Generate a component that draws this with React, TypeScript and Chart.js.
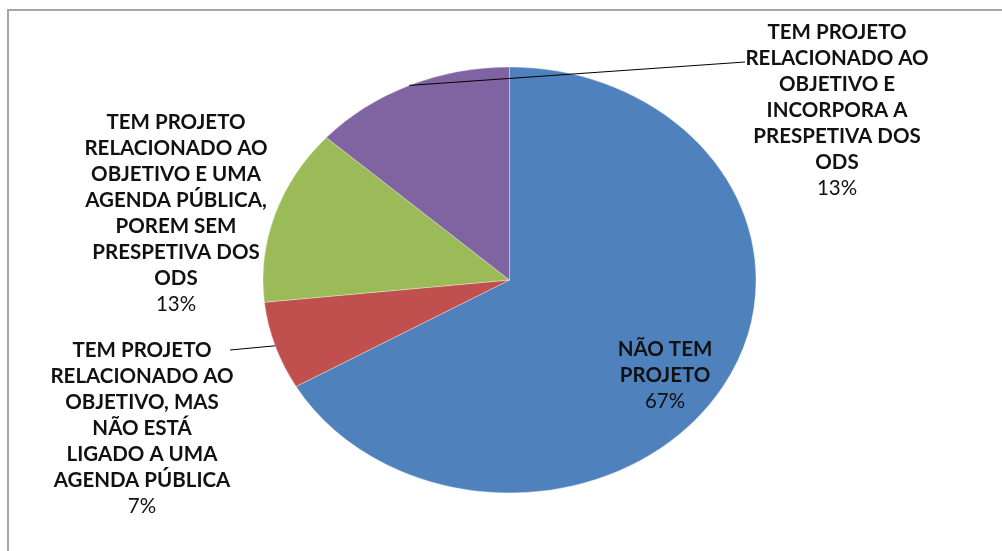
import React, { useEffect, useRef } from "react";
import { Chart, registerables } from "chart.js";
Chart.register(...registerables);

// ---- data ----
const categories = [
  "NÃO TEM PROJETO",
  "TEM PROJETO RELACIONADO AO OBJETIVO, MAS NÃO ESTÁ LIGADO A UMA AGENDA PÚBLICA",
  "TEM PROJETO RELACIONADO AO OBJETIVO E UMA AGENDA PÚBLICA, POREM SEM PRESPETIVA DOS ODS",
  "TEM PROJETO RELACIONADO AO OBJETIVO E INCORPORA A PRESPETIVA DOS ODS",
];
const values = [10, 1, 2, 2];
const labelLines = [
  ["NÃO TEM", "PROJETO"],
  ["TEM PROJETO", "RELACIONADO AO", "OBJETIVO, MAS", "NÃO ESTÁ", "LIGADO A UMA", "AGENDA PÚBLICA"],
  ["TEM PROJETO", "RELACIONADO AO", "OBJETIVO E UMA", "AGENDA PÚBLICA,", "POREM SEM", "PRESPETIVA DOS", "ODS"],
  ["TEM PROJETO", "RELACIONADO AO", "OBJETIVO E", "INCORPORA A", "PRESPETIVA DOS", "ODS"],
];

// ---- styles / layout ----
const colors = ["#4F81BD", "#C0504D", "#9BBB59", "#8064A2"];
const W = 1002;
const H = 551;
const RADIUS = 246.5;
const Y_SCALE = 213 / 246.5;
const LABEL_POS = [
  { x: 665, y: 349 },
  { x: 142, y: 350 },
  { x: 176, y: 122 },
  { x: 837, y: 32 },
];
const LEADER_END: ({ x: number; y: number } | null)[] = [null, { x: 230, y: 350 }, null, { x: 745, y: 62 }];
const LINE_H = 26;
const FONT_FAMILY = "Lato, 'Open Sans', sans-serif";
const FONT_SIZE = 20.5;

const ellipsePlugin = {
  id: "ellipse",
  beforeDraw(chart: any) {
    const ctx = chart.ctx;
    ctx.save();
    ctx.fillStyle = "#ffffff";
    ctx.fillRect(0, 0, W, H);
    ctx.strokeStyle = "#a6a6a6";
    ctx.lineWidth = 2;
    ctx.beginPath();
    ctx.moveTo(W, 10);
    ctx.lineTo(8, 10);
    ctx.lineTo(8, H);
    ctx.stroke();
    ctx.restore();
  },
  beforeDatasetsDraw(chart: any) {
    const arc = chart.getDatasetMeta(0).data[0];
    const ctx = chart.ctx;
    ctx.save();
    ctx.translate(arc.x, arc.y);
    ctx.scale(1, Y_SCALE);
    ctx.translate(-arc.x, -arc.y);
  },
  afterDatasetsDraw(chart: any) {
    chart.ctx.restore();
  },
  afterDraw(chart: any) {
    const ctx = chart.ctx;
    const meta = chart.getDatasetMeta(0);
    const total = values.reduce((a, b) => a + b, 0);
    ctx.save();
    meta.data.forEach((arc: any, i: number) => {
      const mid = (arc.startAngle + arc.endAngle) / 2;
      const ex = arc.x + Math.cos(mid) * arc.outerRadius;
      const ey = arc.y + Math.sin(mid) * arc.outerRadius * Y_SCALE;
      const end = LEADER_END[i];
      if (end) {
        ctx.strokeStyle = "#000000";
        ctx.lineWidth = 1;
        ctx.beginPath();
        ctx.moveTo(ex, ey);
        ctx.lineTo(end.x, end.y);
        ctx.stroke();
      }
      const pos = LABEL_POS[i];
      ctx.fillStyle = "#111111";
      ctx.textAlign = "center";
      ctx.textBaseline = "middle";
      ctx.font = `bold ${FONT_SIZE}px ${FONT_FAMILY}`;
      const lines = labelLines[i];
      lines.forEach((l, k) => ctx.fillText(l, pos.x, pos.y + k * LINE_H));
      ctx.font = `${FONT_SIZE}px ${FONT_FAMILY}`;
      const pct = Math.round((values[i] / total) * 100) + "%";
      ctx.fillText(pct, pos.x, pos.y + lines.length * LINE_H);
    });
    ctx.restore();
  },
};

export default function App() {
  const ref = useRef<HTMLCanvasElement>(null);
  useEffect(() => {
    if (!ref.current) return;
    const chart = new Chart(ref.current, {
      type: "pie",
      data: {
        labels: categories,
        datasets: [
          {
            data: values,
            backgroundColor: colors,
            borderColor: "rgba(255,255,255,0.35)",
            borderWidth: 1,
          },
        ],
      },
      options: {
        responsive: false,
        animation: false,
        radius: RADIUS,
        layout: { padding: { left: 17, right: 0, top: 9, bottom: 0 } },
        plugins: { legend: { display: false }, tooltip: { enabled: false } },
      } as any,
      plugins: [ellipsePlugin],
    });
    return () => chart.destroy();
  }, []);
  return (
    <div style={{ position: "absolute", left: 0, top: 0, width: W, height: H, background: "#fff" }}>
      <canvas ref={ref} width={W} height={H} style={{ width: W, height: H, display: "block" }} />
    </div>
  );
}
